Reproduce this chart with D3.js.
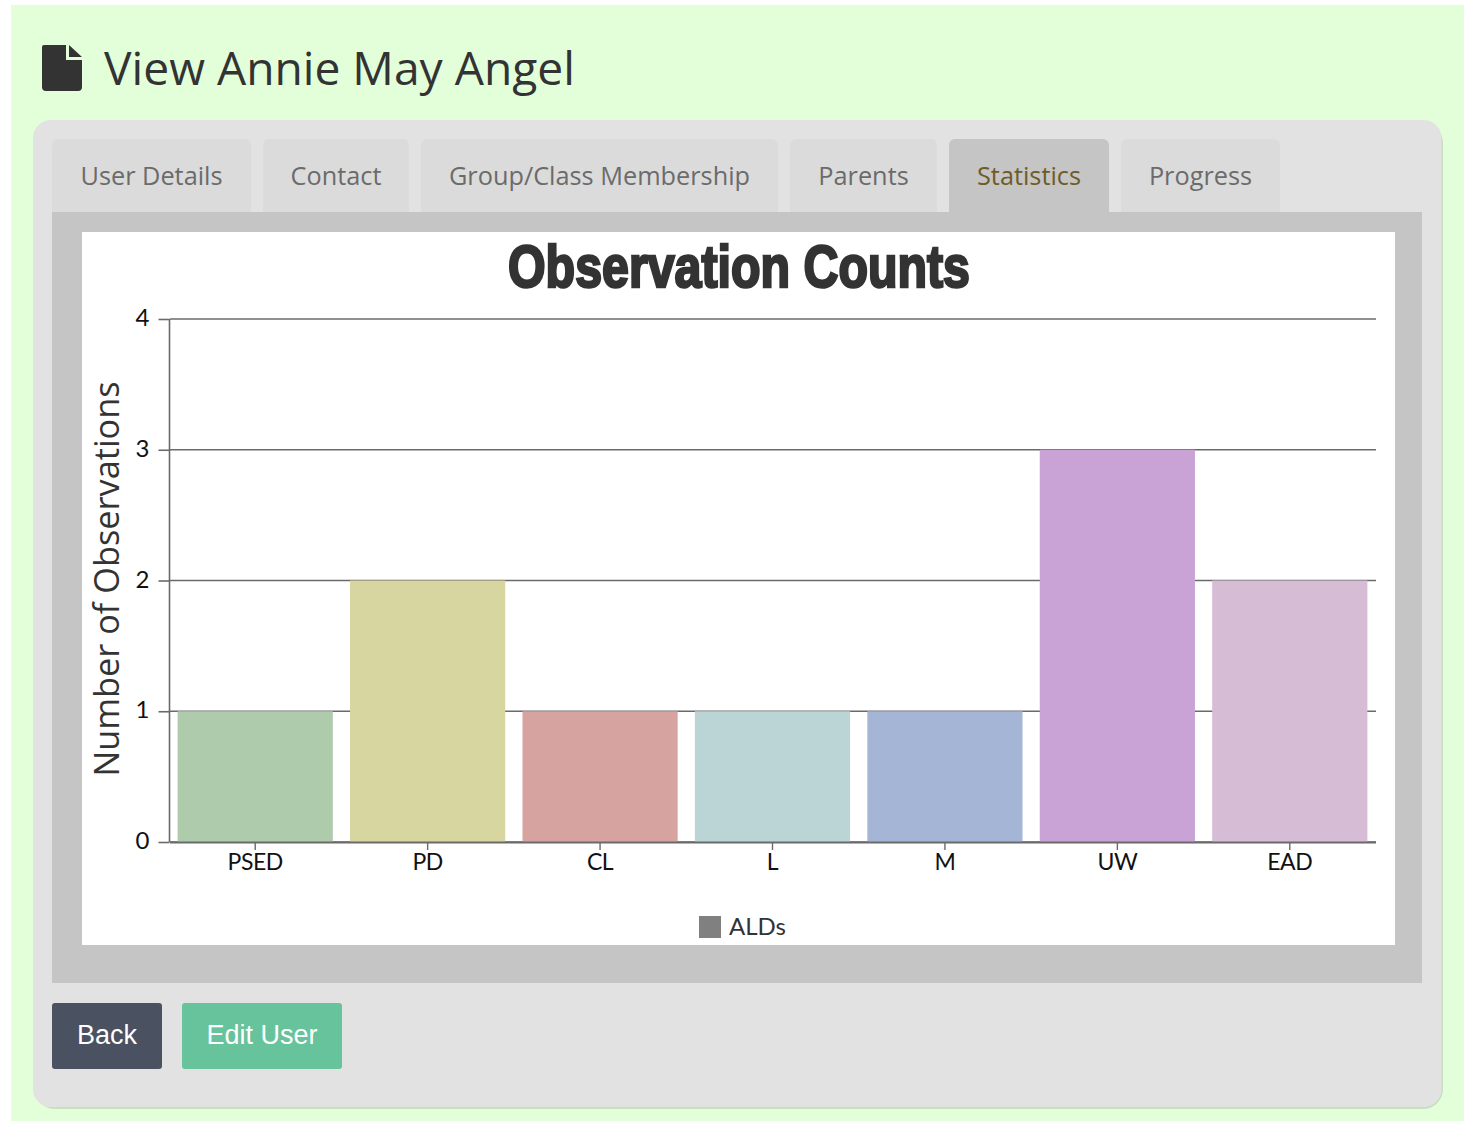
<!DOCTYPE html>
<html><head><meta charset="utf-8">
<script src="https://cdn.jsdelivr.net/npm/d3@7"></script>
<style>html,body{margin:0;padding:0;background:#fff;overflow:hidden}svg{display:block}</style>
</head><body><div id="c"></div>
<script>
const categories=["PSED","PD","CL","L","M","UW","EAD"];
const observationCounts=[1,2,1,1,1,3,2];
const barColors=["#aecbab","#d7d6a0","#d6a3a1","#bbd5d6","#a5b5d6","#c9a3d6","#d6bcd4"];
const yTicks=[0,1,2,3,4];
const tabLabels=["User Details","Contact","Group/Class Membership","Parents","Statistics","Progress"];
const tabLefts=[52,263,421,790,949,1121];
const tabRights=[251,409,778,937,1109,1280];
const activeTab="Statistics";
const headingText="View Annie May Angel";
const chartTitle="Observation Counts";
const yAxisTitle="Number of Observations";
const legendLabel="ALDs";

const svg=d3.select("#c").append("svg").attr("width",1473).attr("height",1121);
const sans="'Open Sans',sans-serif";
const rect=(x,y,w,h,fill,r=0)=>svg.append("rect").attr("x",x).attr("y",y).attr("width",w).attr("height",h).attr("fill",fill).attr("rx",r);

// page
rect(11,5,1453,1116,"#e2ffda");
// heading icon
svg.append("path").attr("fill","#333")
  .attr("d","M44 45H66V60H82V87a4 4 0 0 1-4 4H46a4 4 0 0 1-4-4V47a2 2 0 0 1 2-2ZM69 45L82 57H69Z");
svg.append("text").attr("x",104).attr("y",85).attr("font-family",sans).attr("font-size",46.2).attr("fill","#333").text(headingText);

// panel
rect(35,123,1408,986,"#c8dfc2",20);
rect(33,120,1408.5,987,"#e2e2e2",18);

// tabs
tabLabels.forEach((t,i)=>{
  const on=t===activeTab;
  svg.append("path").attr("fill",on?"#c5c5c5":"#dbdbdb")
    .attr("d",`M${tabLefts[i]} 213V145a6 6 0 0 1 6-6H${tabRights[i]-6}a6 6 0 0 1 6 6V213Z`);
  svg.append("text").attr("x",(tabLefts[i]+tabRights[i])/2).attr("y",185).attr("text-anchor","middle")
    .attr("font-family",sans).attr("font-size",25.3).attr("fill",on?"#6e5c28":"#6b6b6b").text(t);
});
rect(52,212,1370,771,"#c5c5c5");
rect(82,232,1313,713,"#fff");

// buttons
rect(52,1003,110,66,"#4a5160",3);
rect(182,1003,160,66,"#66c39c",3);
const btn=(x,t)=>svg.append("text").attr("x",x).attr("y",1044).attr("text-anchor","middle")
  .attr("font-family","'Liberation Sans',Arial,sans-serif").attr("font-size",27).attr("fill","#fff").text(t);
btn(107,"Back");btn(262,"Edit User");

// chart
const x=d3.scaleBand().domain(categories).range([169,1376]).paddingInner(0.1).paddingOuter(0.05);
const y=d3.scaleLinear().domain([0,4]).range([842,319]);
const axisCol="#6a6a6a";
const tickFont="Lato,sans-serif";

const gy=svg.append("g").attr("transform","translate(169.5,0)")
  .call(d3.axisLeft(y).tickValues(yTicks).tickFormat(d3.format("d")).tickSize(11).tickPadding(9));
gy.select(".domain").attr("stroke",axisCol).attr("stroke-width",1.6).attr("d","M0 319V842");
gy.selectAll(".tick line").attr("stroke",axisCol).attr("stroke-width",1.6);
gy.selectAll(".tick text").attr("font-family",tickFont).attr("font-size",24).attr("fill","#111").attr("y",-1);

svg.append("g").selectAll("line").data(yTicks).join("line")
  .attr("x1",170).attr("x2",1376).attr("y1",d=>y(d)).attr("y2",d=>y(d))
  .attr("stroke",axisCol).attr("stroke-width",1.6);

svg.append("g").selectAll("rect").data(categories).join("rect")
  .attr("x",d=>x(d)).attr("width",x.bandwidth())
  .attr("y",(d,i)=>y(observationCounts[i])).attr("height",(d,i)=>y(0)-y(observationCounts[i]))
  .attr("fill",(d,i)=>barColors[i]);

const gx=svg.append("g").attr("transform","translate(0,842)")
  .call(d3.axisBottom(x).tickSize(8).tickPadding(4));
gx.select(".domain").attr("stroke",axisCol).attr("stroke-width",2).attr("d","M170 0.5H1376");
gx.selectAll(".tick line").attr("stroke",axisCol).attr("stroke-width",1.4);
gx.selectAll(".tick text").attr("font-family",tickFont).attr("font-size",23).attr("letter-spacing",-0.4).attr("fill","#111");

// title
svg.append("text").attr("x",739).attr("y",287).attr("text-anchor","middle")
  .attr("font-family","'Liberation Sans Narrow','Liberation Sans',sans-serif").attr("font-weight",700)
  .attr("font-size",60).attr("fill","#333").attr("stroke","#333").attr("stroke-width",2.6)
  .attr("textLength",462).attr("lengthAdjust","spacingAndGlyphs").text(chartTitle);

// y title
svg.append("text").attr("transform","translate(119,579) rotate(-90)").attr("text-anchor","middle")
  .attr("font-family",sans).attr("font-size",34.3).attr("fill","#333").text(yAxisTitle);

// legend
rect(699,916,22,22,"#808080");
svg.append("text").attr("x",729).attr("y",935).attr("font-family",tickFont).attr("font-size",24).attr("fill","#333").text(legendLabel);
</script></body></html>
